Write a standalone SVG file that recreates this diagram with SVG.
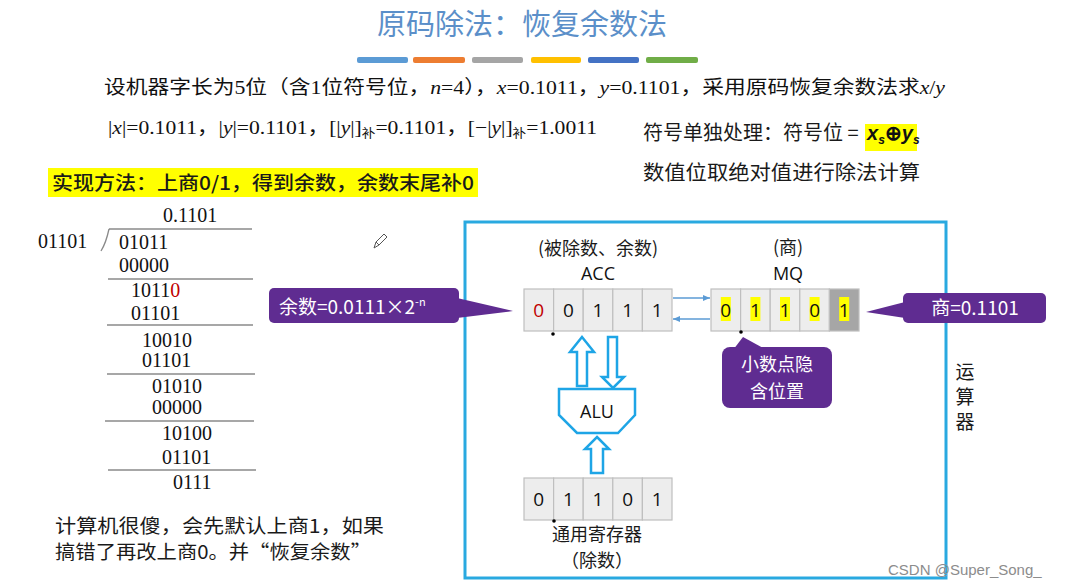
<svg xmlns="http://www.w3.org/2000/svg" width="1065" height="587" viewBox="0 0 1065 587">
<style>
.serif{font-family:"Liberation Serif","Noto Sans CJK SC",serif;fill:#111}
.cjk{font-family:"Noto Sans CJK SC",sans-serif;fill:#1a1a1a}
.cell{fill:#EDEDED;stroke:#BFBFBF;stroke-width:1.2}
.grey{fill:#A6A6A6;stroke:#BFBFBF;stroke-width:1.2}
.digit{font-family:"Open Sans","Noto Sans",sans-serif;font-size:19px;fill:#111;text-anchor:middle}
.rule{stroke:#8a8a8a;stroke-width:1.3;fill:none}
.callout{fill:#5F2C91}
.ctext{font-family:"Noto Sans CJK SC",sans-serif;font-size:18px;fill:#fff}
.hollow{fill:#fff;stroke:#1EA5E6;stroke-width:2.5;stroke-linejoin:miter}
.hl{fill:#FFFF00}
.thin{stroke:#5B9BD5;stroke-width:1.5;fill:none}
.div{font-family:"Liberation Serif",serif;font-size:20px;fill:#111}
</style>
<defs>
<marker id="ah" markerWidth="8" markerHeight="8" refX="7" refY="4" orient="auto" markerUnits="userSpaceOnUse"><path d="M0,1 L7,4 L0,7 z" fill="#5B9BD5"/></marker>
</defs>
<rect width="1065" height="587" fill="#fff"/>

<g id="title">
<text x="522" y="35" text-anchor="middle" font-family="Noto Sans CJK SC, sans-serif" font-size="29" fill="#5B8FC9">原码除法：恢复余数法</text>
<rect x="357" y="57" width="51" height="6" rx="2" fill="#5B9BD5"/>
<rect x="413" y="57" width="52" height="6" rx="2" fill="#ED7D31"/>
<rect x="472" y="57" width="51" height="6" rx="2" fill="#A5A5A5"/>
<rect x="531" y="57" width="50" height="6" rx="2" fill="#FFC000"/>
<rect x="588" y="57" width="51" height="6" rx="2" fill="#4472C4"/>
<rect x="646" y="57" width="52" height="6" rx="2" fill="#70AD47"/>
</g>

<g id="problem">
<text class="serif" x="104" y="94" font-size="19" textLength="841" lengthAdjust="spacingAndGlyphs">设机器字长为5位（含1位符号位，<tspan font-style="italic">n</tspan>=4），<tspan font-style="italic">x</tspan>=0.1011，<tspan font-style="italic">y</tspan>=0.1101，采用原码恢复余数法求<tspan font-style="italic">x</tspan>/<tspan font-style="italic">y</tspan></text>
<text class="serif" x="108" y="134" font-size="19" textLength="489" lengthAdjust="spacingAndGlyphs">|<tspan font-style="italic">x</tspan>|=0.1011，|<tspan font-style="italic">y</tspan>|=0.1101，[|<tspan font-style="italic">y</tspan>|]<tspan font-size="12" dy="4">补</tspan><tspan dy="-4">=0.1101，[−|</tspan><tspan font-style="italic">y</tspan>|]<tspan font-size="12" dy="4">补</tspan><tspan dy="-4">=1.0011</tspan></text>
</g>

<g id="sign-note">
<text class="cjk" x="643" y="140" font-size="20">符号单独处理：符号位 =</text>
<rect class="hl" x="865" y="124" width="52" height="27"/>
<text x="867" y="140" font-family="Liberation Sans, sans-serif" font-size="20" font-style="italic" font-weight="bold" fill="#111">x<tspan font-size="12" dy="4">s</tspan><tspan dy="-4" font-style="normal">⊕</tspan>y<tspan font-size="12" dy="4">s</tspan></text>
<text class="cjk" x="643" y="180" font-size="20" textLength="277" lengthAdjust="spacingAndGlyphs">数值位取绝对值进行除法计算</text>
</g>

<g id="method">
<rect class="hl" x="48" y="168" width="430" height="29"/>
<text class="cjk" x="52" y="190" font-size="19" font-weight="500" fill="#000" textLength="422" lengthAdjust="spacingAndGlyphs">实现方法：上商0/1，得到余数，余数末尾补0</text>
</g>

<g id="long-division">
<text class="div" x="163" y="222">0.1101</text>
<path class="rule" d="M109,229 L252,229 M109,229 Q106,243 101,251"/>
<text class="div" x="38" y="248">01101</text>
<text class="div" x="119" y="249">01011</text>
<text class="div" x="119" y="272">00000</text>
<line class="rule" x1="108" y1="279" x2="253" y2="279"/>
<text class="div" x="131" y="297">1011<tspan fill="#C00000">0</tspan></text>
<text class="div" x="131" y="320">01101</text>
<line class="rule" x1="107" y1="325" x2="253" y2="325"/>
<text class="div" x="142" y="347">10010</text>
<text class="div" x="142" y="367">01101</text>
<line class="rule" x1="107" y1="374" x2="255" y2="374"/>
<text class="div" x="152" y="393">01010</text>
<text class="div" x="152" y="414">00000</text>
<line class="rule" x1="105" y1="421" x2="254" y2="421"/>
<text class="div" x="162" y="440">10100</text>
<text class="div" x="162" y="464">01101</text>
<line class="rule" x1="108" y1="470" x2="256" y2="470"/>
<text class="div" x="173" y="489">0111</text>
</g>

<g id="pencil">
<path d="M374,248 L376,242 L384,234 L387,237 L379,245 Z M376,242 L379,245" fill="none" stroke="#555" stroke-width="1"/>
</g>

<g id="note">
<text class="cjk" x="55" y="533" font-size="19" textLength="329" lengthAdjust="spacingAndGlyphs">计算机很傻，会先默认上商1，如果</text>
<text class="cjk" x="55" y="559" font-size="19" textLength="316" lengthAdjust="spacingAndGlyphs">搞错了再改上商0。并“恢复余数”</text>
</g>

<g id="alu-box">
<rect x="465" y="222" width="481" height="356" fill="none" stroke="#29A9E0" stroke-width="3"/>
</g>

<g id="acc">
<text class="cjk" x="598" y="255" font-size="18" text-anchor="middle">(被除数、余数)</text>
<text x="598" y="280" font-family="Open Sans, sans-serif" font-size="18" text-anchor="middle" fill="#111">ACC</text>
<rect class="cell" x="524" y="289" width="29.6" height="42"/>
<rect class="cell" x="553.6" y="289" width="29.6" height="42"/>
<rect class="cell" x="583.2" y="289" width="29.6" height="42"/>
<rect class="cell" x="612.8" y="289" width="29.6" height="42"/>
<rect class="cell" x="642.4" y="289" width="29.6" height="42"/>
<text class="digit" x="538.8" y="317" style="fill:#C00000">0</text>
<text class="digit" x="568.4" y="317">0</text>
<text class="digit" x="598" y="317">1</text>
<text class="digit" x="627.6" y="317">1</text>
<text class="digit" x="657.2" y="317">1</text>
<circle cx="553" cy="334" r="1.8" fill="#000"/>
</g>

<g id="mq">
<text class="cjk" x="788" y="254" font-size="18" text-anchor="middle">(商)</text>
<text x="788" y="280" font-family="Open Sans, sans-serif" font-size="18" text-anchor="middle" fill="#111">MQ</text>
<rect class="cell" x="711" y="289" width="29.6" height="42"/>
<rect class="cell" x="740.6" y="289" width="29.6" height="42"/>
<rect class="cell" x="770.2" y="289" width="29.6" height="42"/>
<rect class="cell" x="799.8" y="289" width="29.6" height="42"/>
<rect class="grey" x="829.4" y="289" width="29.6" height="42"/>
<rect class="hl" x="720.8" y="297" width="10" height="24"/>
<rect class="hl" x="750.4" y="297" width="10" height="24"/>
<rect class="hl" x="780" y="297" width="10" height="24"/>
<rect class="hl" x="809.6" y="297" width="10" height="24"/>
<rect class="hl" x="839.2" y="297" width="10" height="24"/>
<text class="digit" x="725.8" y="317">0</text>
<text class="digit" x="755.4" y="317">1</text>
<text class="digit" x="785" y="317">1</text>
<text class="digit" x="814.6" y="317">0</text>
<text class="digit" x="844.2" y="317">1</text>
<circle cx="741" cy="332" r="1.8" fill="#000"/>
</g>

<g id="alu">
<polygon class="hollow" points="559,389 635,389 635,415 618,433 577,433 559,415"/>
<text x="597" y="418" font-family="Open Sans, sans-serif" font-size="18" text-anchor="middle" fill="#111">ALU</text>
</g>

<g id="divisor-reg">
<rect class="cell" x="524" y="478" width="29.6" height="42"/>
<rect class="cell" x="553.6" y="478" width="29.6" height="42"/>
<rect class="cell" x="583.2" y="478" width="29.6" height="42"/>
<rect class="cell" x="612.8" y="478" width="29.6" height="42"/>
<rect class="cell" x="642.4" y="478" width="29.6" height="42"/>
<text class="digit" x="538.8" y="506">0</text>
<text class="digit" x="568.4" y="506">1</text>
<text class="digit" x="598" y="506">1</text>
<text class="digit" x="627.6" y="506">0</text>
<text class="digit" x="657.2" y="506">1</text>
<circle cx="554" cy="521" r="1.8" fill="#000"/>
<text class="cjk" x="597" y="541" font-size="18" text-anchor="middle">通用寄存器</text>
<text class="cjk" x="597" y="567" font-size="18" text-anchor="middle">（除数）</text>
</g>

<g id="label-alu-unit">
<text class="cjk" x="965" y="379" font-size="19" text-anchor="middle">运</text>
<text class="cjk" x="965" y="404" font-size="19" text-anchor="middle">算</text>
<text class="cjk" x="965" y="429" font-size="19" text-anchor="middle">器</text>
</g>

<g id="callout-remainder">
<rect class="callout" x="269" y="288" width="190" height="35" rx="5"/>
<polygon class="callout" points="457,298 513,311 457,318"/>
<text class="ctext" x="279" y="314" font-size="19" style="font-size:19px">余数=0.0111×2<tspan font-size="11" dy="-8" style="font-size:11px">-n</tspan></text>
</g>

<g id="callout-quotient">
<rect class="callout" x="903" y="293" width="143" height="30" rx="5"/>
<polygon class="callout" points="905,302 866,312 905,318"/>
<text class="ctext" x="975" y="315" text-anchor="middle" style="font-size:19px">商=0.1101</text>
</g>

<g id="callout-point">
<rect class="callout" x="722" y="347" width="110" height="61" rx="8"/>
<polygon class="callout" points="743,337 733,350 767,350"/>
<text class="ctext" x="777" y="371" text-anchor="middle">小数点隐</text>
<text class="ctext" x="777" y="398" text-anchor="middle">含位置</text>
</g>

<g id="connectors">
<line class="thin" x1="673" y1="298" x2="710" y2="298" marker-end="url(#ah)"/>
<line class="thin" x1="710" y1="319" x2="673" y2="319" marker-end="url(#ah)"/>
<polygon class="hollow" points="582,337 594,352 587,352 587,386 577,386 577,352 570,352"/>
<polygon class="hollow" points="608,337 617,337 617,377 624,377 613,388 602,377 608,377"/>
<polygon class="hollow" points="597,437 609,449 603,449 603,473 591,473 591,449 585,449"/>
</g>

<g id="watermark">
<text x="888" y="575" font-family="Liberation Sans, sans-serif" font-size="15" fill="#8c8c8c">CSDN @Super_Song_</text>
</g>
</svg>
